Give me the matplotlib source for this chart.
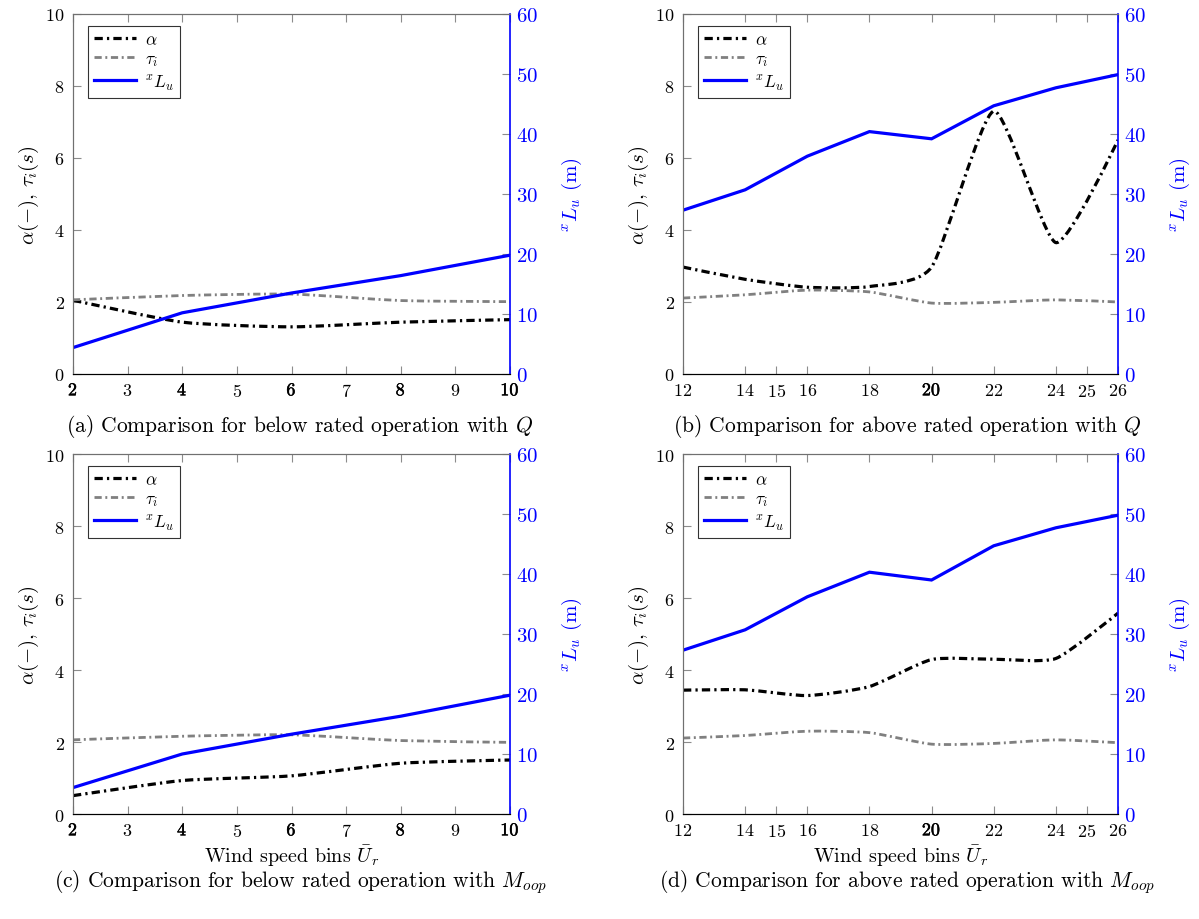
import numpy as np
import matplotlib
matplotlib.use("Agg")
import matplotlib.pyplot as plt
from matplotlib.path import Path
from matplotlib.patches import PathPatch
from matplotlib.lines import Line2D
import matplotlib.patheffects as pe

plt.rcParams['font.family'] = ['cmr10', 'DejaVu Serif']
plt.rcParams['mathtext.fontset'] = 'cm'
plt.rcParams['axes.formatter.use_mathtext'] = True

# ---------------- data ----------------
x_below = [2, 4, 6, 8, 10]
x_above = [12, 14, 16, 18, 20, 22, 24, 26]

alpha_a = [2.05, 1.44, 1.31, 1.44, 1.51]
tau_a = [2.06, 2.18, 2.22, 2.04, 2.01]
L_a = [4.4, 10.2, 13.5, 16.4, 19.8]

alpha_b = [2.97, 2.63, 2.41, 2.43, 2.97, 7.3, 3.65, 6.5]
tau_b = [2.11, 2.2, 2.33, 2.28, 1.97, 1.99, 2.06, 2.0]
L_b = [27.3, 30.7, 36.3, 40.4, 39.2, 44.7, 47.7, 49.9]

alpha_c = [0.51, 0.93, 1.06, 1.41, 1.5]
tau_c = [2.06, 2.16, 2.2, 2.04, 1.99]
L_c = [4.4, 10.0, 13.3, 16.3, 19.8]

alpha_d = [3.44, 3.45, 3.29, 3.54, 4.29, 4.3, 4.32, 5.58]
tau_d = [2.11, 2.18, 2.3, 2.26, 1.94, 1.96, 2.06, 1.98]
L_d = [27.3, 30.7, 36.2, 40.3, 39.0, 44.7, 47.7, 49.8]

xticks_below = [2, 3, 4, 5, 6, 7, 8, 9, 10]
xticks_above = [12, 14, 15, 16, 18, 20, 22, 24, 25, 26]
heavy_below = [2, 4, 6, 8, 10]
heavy_above = [20]
yticks_left = [0, 2, 4, 6, 8, 10]
yticks_right = [0, 10, 20, 30, 40, 50, 60]

captions = [
    r"(a) Comparison for below rated operation with $Q$",
    r"(b) Comparison for above rated operation with $Q$",
    r"(c) Comparison for below rated operation with $M_{oop}$",
    r"(d) Comparison for above rated operation with $M_{oop}$",
]

BLUE = '#0000ff'
GRAY = '#808080'
TICKC = '#8c8c8c'
DASH_A = (0, (2.6, 1.3, 0.7, 1.3))
DASH_T = (0, (2.6, 1.3, 0.7, 1.3))

W, H = 1199, 920
fig = plt.figure(figsize=(W / 100, H / 100), dpi=100)


def rect(l, r, t, b):
    return [l / W, 1 - b / H, (r - l) / W, (b - t) / H]


def smooth_path(xs, ys, k=0.1):
    pts = np.column_stack([xs, ys]).astype(float)
    n = len(pts)
    verts = [pts[0]]
    codes = [Path.MOVETO]
    for i in range(n - 1):
        p0 = pts[i]
        p1 = pts[i + 1]
        d0 = (pts[i + 1] - pts[i - 1]) if i > 0 else np.zeros(2)
        d1 = (pts[i + 2] - pts[i]) if i + 2 < n else np.zeros(2)
        verts += [p0 + k * d0, p1 - k * d1, p1]
        codes += [Path.CURVE4] * 3
    return Path(np.array(verts), codes)


def panel(pos, xs, al, ta, L, xticks, heavy, xlim, xlabel):
    ax = fig.add_axes(rect(*pos))
    ax2 = ax.twinx()
    ax.add_patch(PathPatch(smooth_path(xs, al), fill=False, ec='black',
                           lw=2.3, ls=DASH_A, zorder=3, capstyle='butt'))
    ax.add_patch(PathPatch(smooth_path(xs, ta), fill=False, ec=GRAY,
                           lw=2.0, ls=DASH_T, zorder=3, capstyle='butt'))
    ax2.plot(xs, L, color=BLUE, lw=2.3, solid_joinstyle='miter')
    ax.set_xlim(*xlim)
    ax.set_ylim(0, 10)
    ax2.set_ylim(0, 60)
    ax.set_xticks(xticks)
    ax.set_yticks(yticks_left)
    ax2.set_yticks(yticks_right)
    ax.tick_params(direction='in', length=6, width=0.8, color=TICKC,
                   labelsize=13, top=True, pad=6)
    ax.tick_params(axis='y', right=False, pad=6)
    ax2.tick_params(direction='in', length=6, width=0.8, color=TICKC,
                    labelsize=15, labelcolor=BLUE, pad=4)
    for lab, v in zip(ax.get_xticklabels(), xticks):
        if v in heavy:
            lab.set_path_effects([pe.withStroke(linewidth=0.35, foreground='black')])
    for s in ['left', 'top']:
        ax.spines[s].set_color('#707070')
        ax2.spines[s].set_color('#707070')
    ax.spines['bottom'].set_color('black')
    ax2.spines['bottom'].set_color('black')
    ax2.spines['right'].set_color(BLUE)
    ax2.spines['right'].set_linewidth(1.2)
    ax.spines['right'].set_visible(False)
    ax.set_ylabel(r"$\alpha(-)$, $\tau_i(s)$", fontsize=15, labelpad=3)
    ax2.set_ylabel(r"$^{x}L_u$ (m)", fontsize=15, color=BLUE, labelpad=16)
    if xlabel:
        ax.set_xlabel(r"Wind speed bins $\bar{U}_r$", fontsize=14.5)
        ax.xaxis.set_label_coords(0.5, -(856 - pos[3]) / (pos[3] - pos[2]),
                                  transform=ax.transAxes)
        ax.xaxis.label.set_va('center')
    handles = [
        Line2D([], [], color='black', lw=2.3, ls=DASH_A),
        Line2D([], [], color=GRAY, lw=2.0, ls=DASH_T),
        Line2D([], [], color=BLUE, lw=2.3),
    ]
    leg = ax2.legend(handles, [r"$\alpha$", r"$\tau_i$", r"$^{x}L_u$"],
                     loc='upper left', bbox_to_anchor=(0.035, 0.967),
                     fontsize=12.5, frameon=True, fancybox=False,
                     edgecolor='black', handlelength=2.4, borderpad=0.35,
                     labelspacing=0.2, handletextpad=0.5, borderaxespad=0)
    leg.get_frame().set_linewidth(0.8)
    return ax


panel((73, 510, 15, 375), x_below, alpha_a, tau_a, L_a, xticks_below, heavy_below, (2, 10), False)
panel((683, 1118, 15, 375), x_above, alpha_b, tau_b, L_b, xticks_above, heavy_above, (12, 26), False)
panel((73, 510, 455, 815), x_below, alpha_c, tau_c, L_c, xticks_below, heavy_below, (2, 10), True)
panel((683, 1118, 455, 815), x_above, alpha_d, tau_d, L_d, xticks_above, heavy_above, (12, 26), True)

for (cx, cy), txt in zip([(300, 427), (907, 427), (300, 882), (907, 882)], captions):
    fig.text(cx / W, 1 - cy / H, txt, ha='center', va='center', fontsize=15.5)

fig.savefig('out.png', dpi=100)
